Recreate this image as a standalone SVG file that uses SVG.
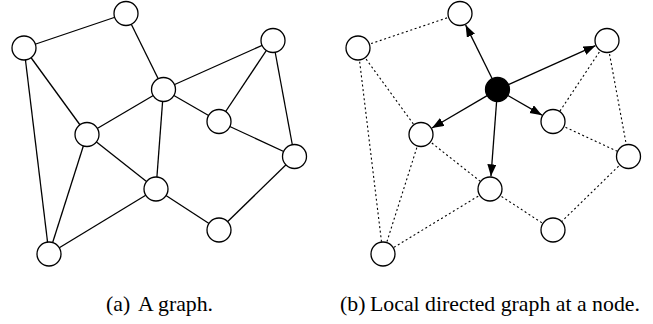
<svg xmlns="http://www.w3.org/2000/svg" width="653" height="324" viewBox="0 0 653 324">
<style>
.e{stroke:#000;stroke-width:1.3;fill:none}
.d{stroke:#000;stroke-width:1.1;fill:none;stroke-dasharray:2,2.6}
.a{stroke:#000;stroke-width:1.3;fill:none;marker-end:url(#ah)}
.n{fill:#fff;stroke:#000;stroke-width:1.3}
.k{fill:#000;stroke:#000;stroke-width:1.3}
</style>
<defs>
<marker id="ah" markerUnits="userSpaceOnUse" markerWidth="14" markerHeight="11" refX="12" refY="4.5" orient="auto">
<path d="M0,0 L12,4.5 L0,9 z" fill="#000"/>
</marker>
</defs>
<g id="connectors">
<g id="edges-a">
<line class="e" x1="24" y1="48" x2="126" y2="13.5"/>
<line class="e" x1="24" y1="48" x2="87" y2="134.5"/>
<line class="e" x1="24" y1="48" x2="49" y2="254"/>
<line class="e" x1="126" y1="13.5" x2="163.5" y2="89.5"/>
<line class="e" x1="163.5" y1="89.5" x2="273" y2="40.5"/>
<line class="e" x1="163.5" y1="89.5" x2="87" y2="134.5"/>
<line class="e" x1="163.5" y1="89.5" x2="219" y2="121.5"/>
<line class="e" x1="163.5" y1="89.5" x2="156" y2="189"/>
<line class="e" x1="273" y1="40.5" x2="219" y2="121.5"/>
<line class="e" x1="273" y1="40.5" x2="294.5" y2="156.5"/>
<line class="e" x1="219" y1="121.5" x2="294.5" y2="156.5"/>
<line class="e" x1="87" y1="134.5" x2="156" y2="189"/>
<line class="e" x1="87" y1="134.5" x2="49" y2="254"/>
<line class="e" x1="156" y1="189" x2="49" y2="254"/>
<line class="e" x1="156" y1="189" x2="219" y2="230"/>
<line class="e" x1="294.5" y1="156.5" x2="219" y2="230"/>
</g>
<g id="edges-b">
<line class="d" x1="358" y1="48" x2="460" y2="13.5"/>
<line class="d" x1="358" y1="48" x2="421" y2="134.5"/>
<line class="d" x1="358" y1="48" x2="383" y2="254"/>
<line class="d" x1="607" y1="40.5" x2="553" y2="121.5"/>
<line class="d" x1="607" y1="40.5" x2="628.5" y2="156.5"/>
<line class="d" x1="553" y1="121.5" x2="628.5" y2="156.5"/>
<line class="d" x1="421" y1="134.5" x2="490" y2="189"/>
<line class="d" x1="421" y1="134.5" x2="383" y2="254"/>
<line class="d" x1="490" y1="189" x2="383" y2="254"/>
<line class="d" x1="490" y1="189" x2="553" y2="230"/>
<line class="d" x1="628.5" y1="156.5" x2="553" y2="230"/>
<line class="a" x1="492.19" y1="78.74" x2="465.62" y2="24.89"/>
<line class="a" x1="508.45" y1="84.6" x2="595.41" y2="45.69"/>
<line class="a" x1="507.9" y1="95.49" x2="542" y2="115.16"/>
<line class="a" x1="496.6" y1="101.47" x2="490.95" y2="176.34"/>
<line class="a" x1="487.16" y1="95.58" x2="431.95" y2="128.06"/>
</g>
</g>
<g id="a-A"><circle class="n" cx="24" cy="48" r="12"/></g>
<g id="a-B"><circle class="n" cx="126" cy="13.5" r="12"/></g>
<g id="a-C"><circle class="n" cx="273" cy="40.5" r="12"/></g>
<g id="a-D"><circle class="n" cx="163.5" cy="89.5" r="12"/></g>
<g id="a-E"><circle class="n" cx="219" cy="121.5" r="12"/></g>
<g id="a-F"><circle class="n" cx="87" cy="134.5" r="12"/></g>
<g id="a-G"><circle class="n" cx="294.5" cy="156.5" r="12"/></g>
<g id="a-H"><circle class="n" cx="156" cy="189" r="12"/></g>
<g id="a-I"><circle class="n" cx="219" cy="230" r="12"/></g>
<g id="a-J"><circle class="n" cx="49" cy="254" r="12"/></g>
<g id="b-A"><circle class="n" cx="358" cy="48" r="12"/></g>
<g id="b-B"><circle class="n" cx="460" cy="13.5" r="12"/></g>
<g id="b-C"><circle class="n" cx="607" cy="40.5" r="12"/></g>
<g id="b-D"><circle class="k" cx="497.5" cy="89.5" r="12"/></g>
<g id="b-E"><circle class="n" cx="553" cy="121.5" r="12"/></g>
<g id="b-F"><circle class="n" cx="421" cy="134.5" r="12"/></g>
<g id="b-G"><circle class="n" cx="628.5" cy="156.5" r="12"/></g>
<g id="b-H"><circle class="n" cx="490" cy="189" r="12"/></g>
<g id="b-I"><circle class="n" cx="553" cy="230" r="12"/></g>
<g id="b-J"><circle class="n" cx="383" cy="254" r="12"/></g>
<g id="captions" font-family="'Liberation Serif', 'DejaVu Serif', serif" font-size="21.8" fill="#000">
<text y="311"><tspan x="106">(a)</tspan><tspan x="138">A graph.</tspan></text>
<text y="311"><tspan x="340">(b)</tspan><tspan x="370">Local directed graph at a node.</tspan></text>
</g>
</svg>
